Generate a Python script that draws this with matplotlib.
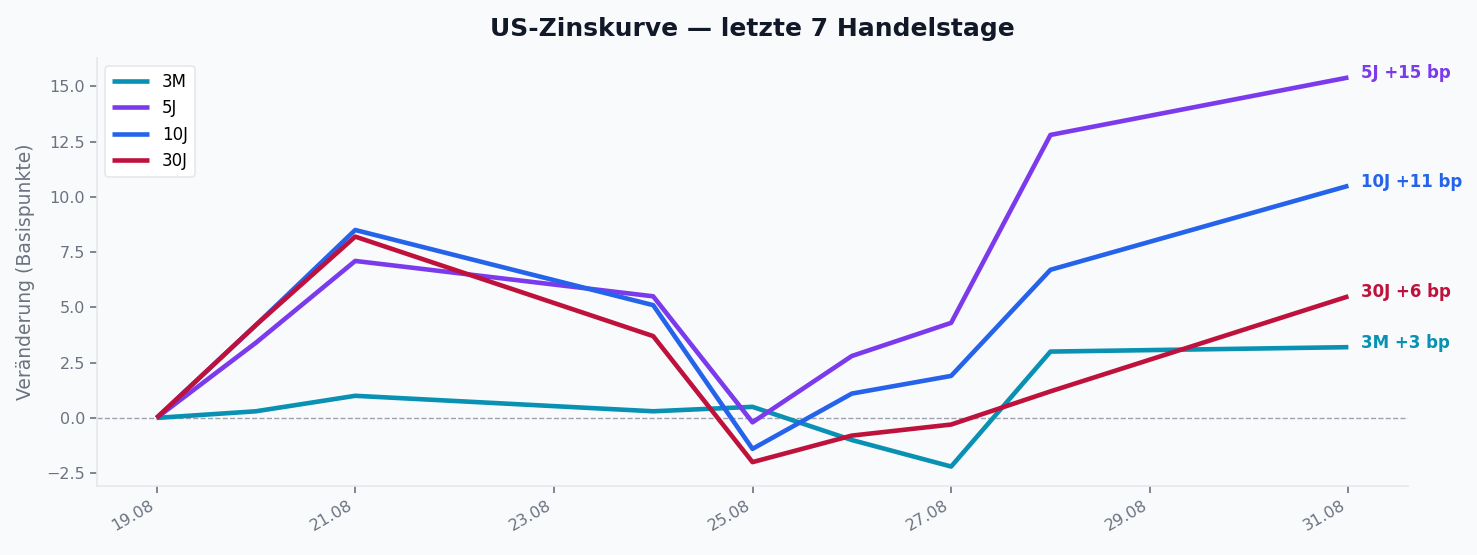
import matplotlib
matplotlib.use("Agg")
import matplotlib.pyplot as plt
import matplotlib.dates as mdates
import pandas as pd

dates = ["2020-08-19", "2020-08-20", "2020-08-21", "2020-08-24", "2020-08-25",
         "2020-08-26", "2020-08-27", "2020-08-28", "2020-08-31"]
s_3m = [0.0, 0.3, 1.0, 0.3, 0.5, -1.0, -2.2, 3.0, 3.2]
s_5j = [0.0, 3.4, 7.1, 5.5, -0.2, 2.8, 4.3, 12.8, 15.4]
s_10j = [0.0, 4.2, 8.5, 5.1, -1.4, 1.1, 1.9, 6.7, 10.5]
s_30j = [0.0, 4.2, 8.2, 3.7, -2.0, -0.8, -0.3, 1.2, 5.5]
names = ["3M", "5J", "10J", "30J"]
colors = ["#0891b2", "#7c3aed", "#2563eb", "#be123c"]
end_labels = ["3M +3 bp", "5J +15 bp", "10J +11 bp", "30J +6 bp"]

x = pd.to_datetime(dates)
series = [s_3m, s_5j, s_10j, s_30j]

bg = "#f8fafc"
fig = plt.figure(figsize=(14.77, 5.55), dpi=100, facecolor=bg)
ax = fig.add_axes([97/1477, 1 - 486/555, (1408-97)/1477, (486-58)/555])
ax.set_facecolor(bg)

for vals, name, c in zip(series, names, colors):
    ax.plot(x, vals, color=c, lw=3.3, label=name, solid_capstyle="butt")
ax.axhline(0, color="#9ca3af", lw=1, ls="--", zorder=0)

for vals, lab, c in zip(series, end_labels, colors):
    ax.annotate(lab, xy=(x[-1], vals[-1]), xytext=(9, 3), textcoords="offset points",
                color=c, fontsize=12, fontweight="bold", va="center", ha="left")

ax.xaxis.set_major_locator(mdates.DayLocator(interval=2))
ax.xaxis.set_major_formatter(mdates.DateFormatter("%d.%m"))
for lbl in ax.get_xticklabels():
    lbl.set_rotation(30)
    lbl.set_ha("right")

for sp in ["top", "right"]:
    ax.spines[sp].set_visible(False)
for sp in ["left", "bottom"]:
    ax.spines[sp].set_color("#e5e7eb")
    ax.spines[sp].set_linewidth(1.2)
ax.tick_params(colors="#6b7280", labelsize=11.5, length=5, width=1.2)
ax.set_ylabel("Veränderung (Basispunkte)", color="#6b7280", fontsize=13.5, labelpad=8)

leg = ax.legend(loc="upper left", fontsize=12, frameon=True, facecolor="white",
                edgecolor="#e5e7eb", framealpha=1, handlelength=2.2)
leg.get_frame().set_linewidth(1.2)

ax.set_title("US-Zinskurve — letzte 7 Handelstage", fontsize=18, fontweight="bold",
             color="#111827", pad=16)

fig.savefig("out.png", dpi=100, facecolor=bg)
